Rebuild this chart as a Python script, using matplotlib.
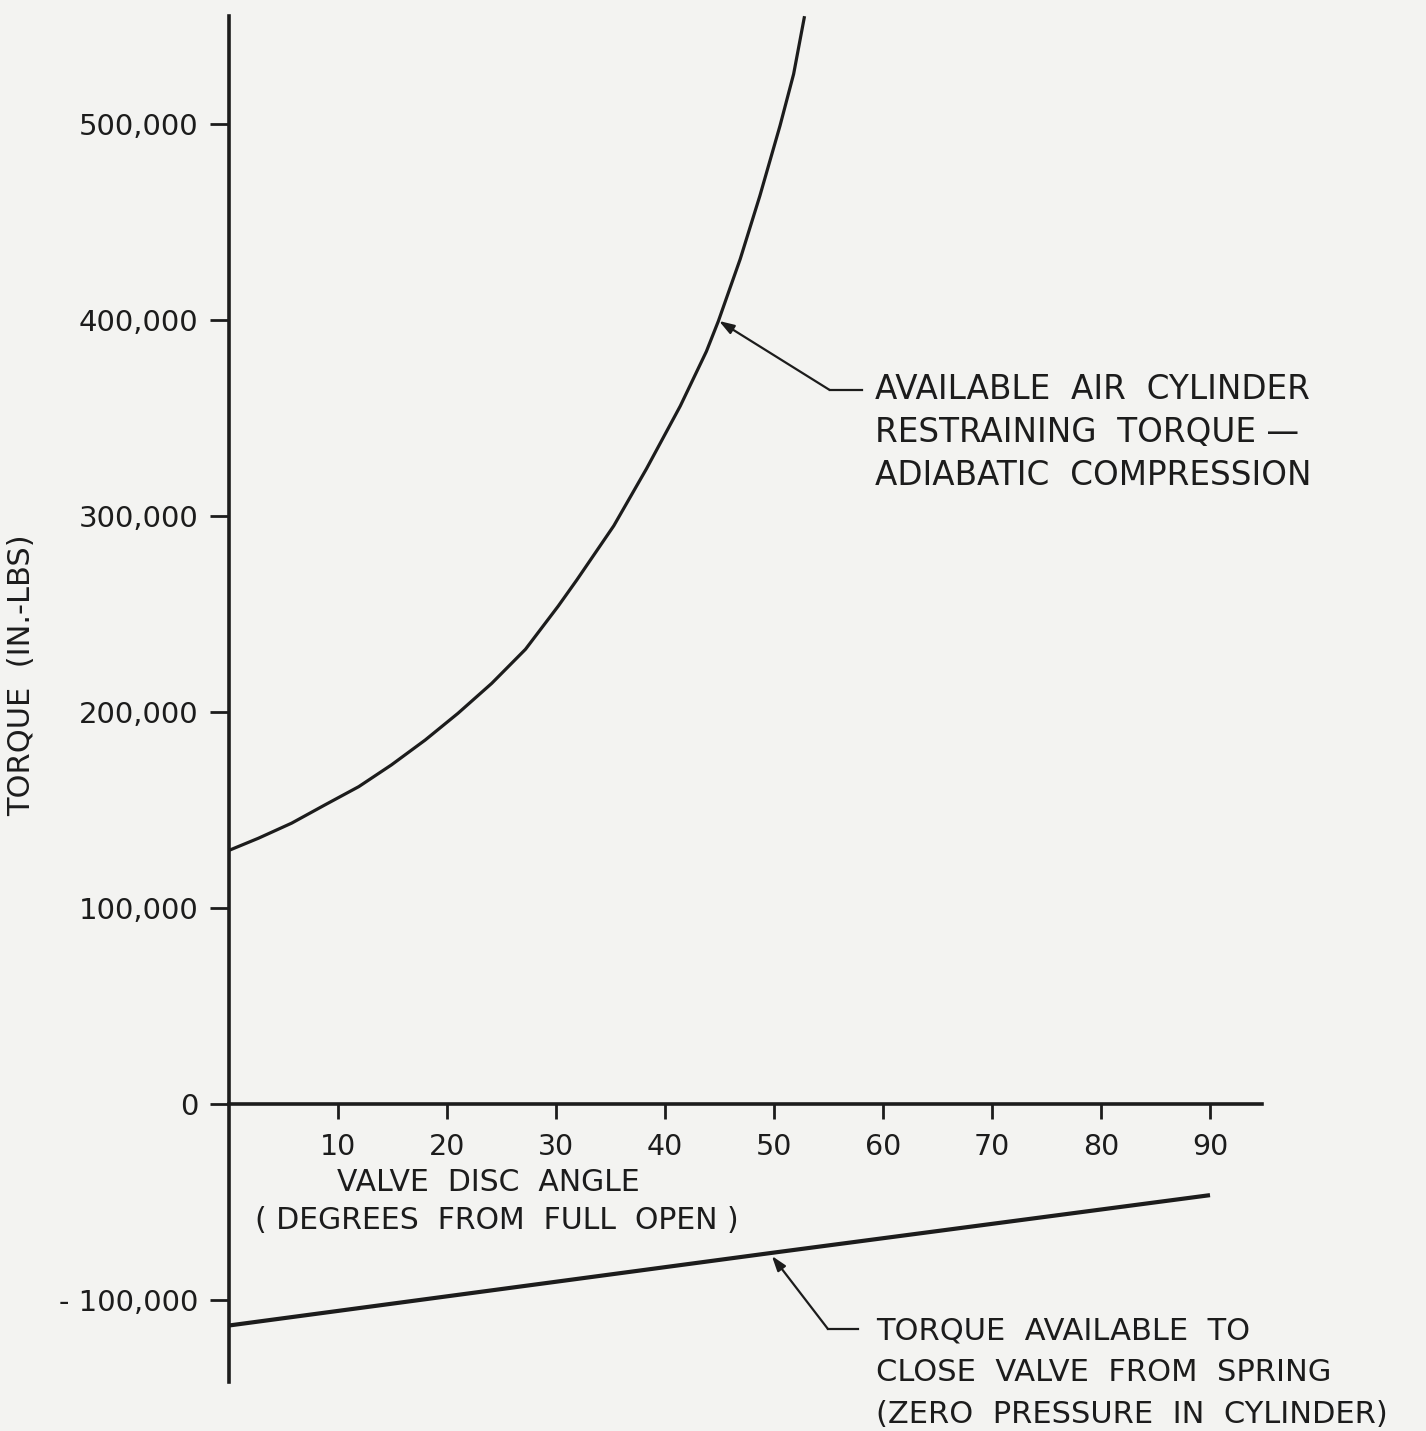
import matplotlib
matplotlib.use("Agg")
import matplotlib.pyplot as plt

# air cylinder restraining torque, adiabatic compression (in.-lbs)
angle_air = [0, 2.7, 5.75, 8.8, 11.9, 14.9, 18.0, 21.0, 24.1, 27.2, 30.2, 31.9,
             35.3, 38.3, 41.4, 43.8, 44.9, 46.9, 48.7, 50.55, 51.8, 52.8]
torque_air = [129400, 135600, 143300, 152600, 161900, 173000, 185700, 199300,
              214600, 232000, 254000, 267300, 295000, 324100, 356100, 384000,
              399500, 431100, 463300, 499100, 525500, 555000]

# spring torque with zero pressure in cylinder
angle_spring = [0, 50, 90]
torque_spring = [-113000, -75800, -46500]

x_ticks = [10, 20, 30, 40, 50, 60, 70, 80, 90]
x_tick_labels = ["10", "20", "30", "40", "50", "60", "70", "80", "90"]
y_ticks = [-100000, 0, 100000, 200000, 300000, 400000, 500000]
y_tick_labels = ["- 100,000", "0", "100,000", "200,000", "300,000", "400,000", "500,000"]

ink = "#1c1c1c"
paper = "#f3f3f1"

fig = plt.figure(figsize=[14.26, 14.31], dpi=100, facecolor=paper)
ax = fig.add_axes([0.1606, 0.0299, 0.7338, 0.9725])
ax.set_facecolor(paper)

ax.plot(angle_air, torque_air, color=ink, lw=2.3, clip_on=False,
        solid_capstyle="butt", solid_joinstyle="round")
ax.plot(angle_spring, torque_spring, color=ink, lw=3.0, clip_on=False, solid_capstyle="butt")

ax.set_xlim(0, 96)
ax.set_ylim(-145000, 565000)

# axes cross at zero
for side in ["top", "right"]:
    ax.spines[side].set_visible(False)
ax.spines["bottom"].set_position(("data", 0))
ax.spines["bottom"].set_bounds(0, 94.8)
ax.spines["left"].set_bounds(-142000, 555000)
for side in ["bottom", "left"]:
    ax.spines[side].set_linewidth(2.6)
    ax.spines[side].set_color(ink)

ax.set_xticks(x_ticks)
ax.set_xticklabels(x_tick_labels)
ax.set_yticks(y_ticks)
ax.set_yticklabels(y_tick_labels)
ax.tick_params(axis="x", direction="out", length=11, width=2, colors=ink, pad=10, labelsize=20.5)
ax.tick_params(axis="y", direction="out", length=14, width=2, colors=ink, pad=8, labelsize=21)

fig.text(22 / 1426, 1 - 675 / 1431, "TORQUE  (IN.-LBS)", rotation=90, ha="center", va="center",
         fontsize=22, color=ink)

ax.text(23.8, -40300, "VALVE  DISC  ANGLE", ha="center", va="center", fontsize=21.5, color=ink)
ax.text(24.6, -59200, "( DEGREES  FROM  FULL  OPEN )", ha="center", va="center",
        fontsize=21.5, color=ink)

arrow = dict(arrowstyle="-|>,head_length=0.9,head_width=0.3", color=ink, lw=1.6,
             shrinkA=0, shrinkB=0)

# leader to the air cylinder curve
ax.plot([55.1, 58.1], [364300, 364300], color=ink, lw=1.6)
ax.annotate("", xy=(44.95, 399500), xytext=(55.1, 364300), arrowprops=arrow)
air_lines = ["AVAILABLE  AIR  CYLINDER", "RESTRAINING  TORQUE —", "ADIABATIC  COMPRESSION"]
for i, line in enumerate(air_lines):
    ax.text(59.3, 364300 - i * 43 / 1.96 * 1000, line, ha="left", va="center",
            fontsize=23.5, color=ink)

# leader to the spring line
ax.plot([54.95, 57.7], [-114800, -114800], color=ink, lw=1.6, clip_on=False)
ax.annotate("", xy=(49.8, -77500), xytext=(54.95, -114800), arrowprops=arrow)
spring_lines = ["TORQUE  AVAILABLE  TO", "CLOSE  VALVE  FROM  SPRING",
                "(ZERO  PRESSURE  IN  CYLINDER)"]
for i, line in enumerate(spring_lines):
    ax.text(59.4, -115700 - i * 42 / 1.96 * 1000, line, ha="left", va="center",
            fontsize=22, color=ink, clip_on=False)

fig.savefig("out.png", dpi=100, facecolor=paper)
